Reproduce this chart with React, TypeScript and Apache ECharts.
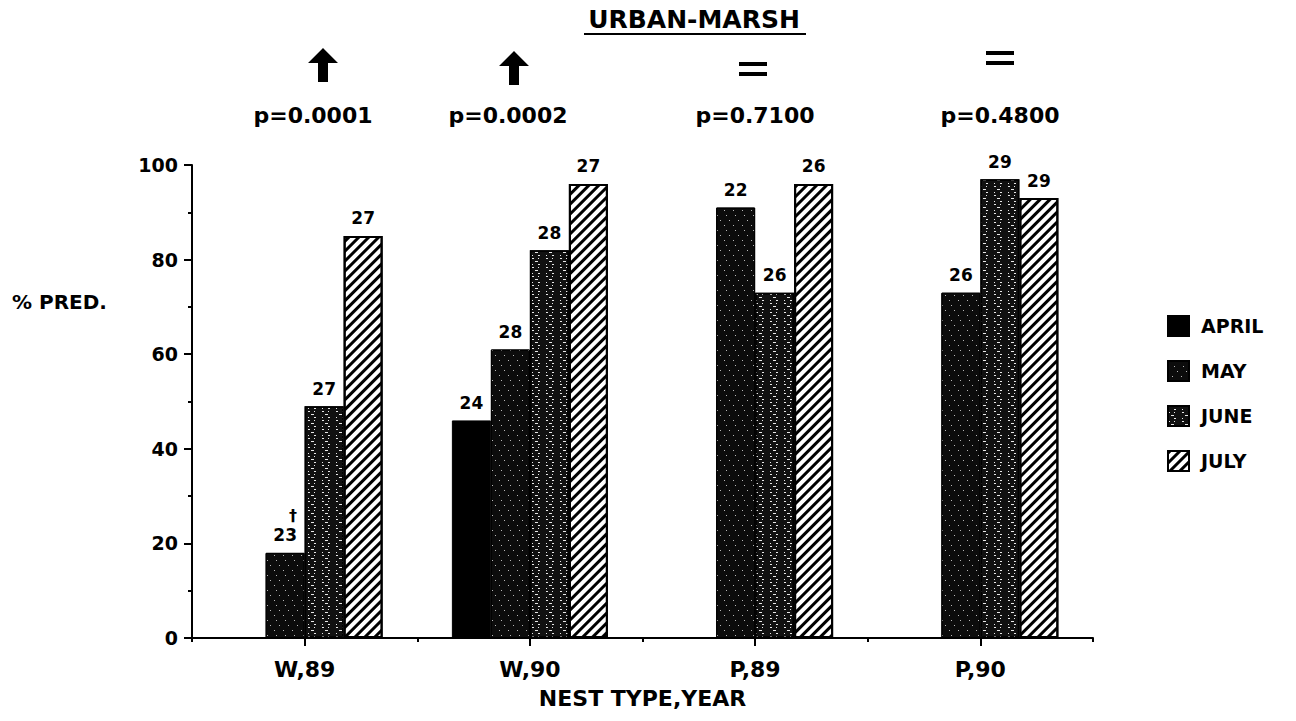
import React, { useEffect, useRef } from 'react';
import * as echarts from 'echarts';

// ---- data ----
const categories = ['W,89', 'W,90', 'P,89', 'P,90'];
const months = ['APRIL', 'MAY', 'JUNE', 'JULY'];
const aprilValues: (number | null)[] = [null, 46, null, null];
const mayValues = [18, 61, 91, 73];
const juneValues = [49, 82, 73, 97];
const julyValues = [85, 96, 96, 93];
const aprilN = ['', '24', '', ''];
const mayN = ['23', '28', '22', '26'];
const juneN = ['27', '28', '26', '29'];
const julyN = ['27', '27', '26', '29'];
const mayNotes = ['†', '', '', ''];
const pValues = ['p=0.0001', 'p=0.0002', 'p=0.7100', 'p=0.4800'];
const trends = ['up', 'up', 'equal', 'equal'];

const FONT = 'DejaVu Sans';

const monthStyle: Record<string, any> = {
  APRIL: { color: '#000', borderColor: '#000', borderWidth: 1 },
  MAY: {
    color: '#0c0c0c',
    borderColor: '#000',
    borderWidth: 1,
    decal: {
      symbol: 'rect',
      symbolSize: 1,
      color: 'rgba(255,255,255,0.7)',
      dashArrayX: [[1, 8], [0, 4, 1, 4], [0, 6, 1, 2]],
      dashArrayY: [1, 4],
      rotation: 0,
    },
  },
  JUNE: {
    color: '#111',
    borderColor: '#000',
    borderWidth: 1.5,
    decal: {
      symbol: 'rect',
      symbolSize: 1,
      color: 'rgba(255,255,255,0.9)',
      dashArrayX: [[2, 4, 1, 7], [0, 3, 3, 8], [1, 5, 2, 6]],
      dashArrayY: [1, 2],
      rotation: 0,
    },
  },
  JULY: {
    color: '#fff',
    borderColor: '#000',
    borderWidth: 2,
    decal: {
      symbol: 'rect',
      symbolSize: 1,
      color: '#000',
      dashArrayX: [1, 0],
      dashArrayY: [2.6, 3.8],
      rotation: -Math.PI / 4,
    },
  },
};

const valuesByMonth: Record<string, (number | null)[]> = {
  APRIL: aprilValues,
  MAY: mayValues,
  JUNE: juneValues,
  JULY: julyValues,
};
const nByMonth: Record<string, string[]> = {
  APRIL: aprilN,
  MAY: mayN,
  JUNE: juneN,
  JULY: julyN,
};

function makeSeries(month: string) {
  const vals = valuesByMonth[month].map((v) => (v != null ? v : '-'));
  return {
    name: month,
    type: 'bar',
    xAxisIndex: 0,
    barWidth: 39,
    barGap: '0%',
    data: vals,
    itemStyle: monthStyle[month],
    label: {
      show: true,
      position: 'top',
      distance: 9,
      fontFamily: FONT,
      fontWeight: 'bold',
      fontSize: 17,
      color: '#000',
      formatter: (p: any) => {
        const n = nByMonth[month][p.dataIndex];
        const note = month === 'MAY' ? mayNotes[p.dataIndex] : '';
        if (note) return '{dag|' + note + '}\n{n|' + n + '}';
        return n;
      },
      rich: {
        dag: { align: 'right', fontSize: 16, fontWeight: 'bold', fontFamily: FONT, color: '#000', lineHeight: 22 },
        n: { fontSize: 17, fontWeight: 'bold', fontFamily: FONT, color: '#000' },
      },
    },
  };
}

function arrow(cx: number, y0: number) {
  return {
    type: 'polygon',
    shape: {
      points: [
        [cx, y0],
        [cx + 15, y0 + 15],
        [cx + 5, y0 + 15],
        [cx + 5, y0 + 34],
        [cx - 5, y0 + 34],
        [cx - 5, y0 + 15],
        [cx - 15, y0 + 15],
      ],
    },
    style: { fill: '#000' },
  };
}

function equalSign(cx: number, y0: number) {
  return [
    { type: 'rect', shape: { x: cx - 14, y: y0, width: 28, height: 4 }, style: { fill: '#000' } },
    { type: 'rect', shape: { x: cx - 14, y: y0 + 10, width: 28, height: 4 }, style: { fill: '#000' } },
  ];
}

const markerPos = [
  { cx: 323, y: 48 },
  { cx: 514, y: 51 },
  { cx: 753, y: 62 },
  { cx: 1000, y: 51 },
];
const pPos = [313, 508, 755, 1000];

export default function App() {
  const ref = useRef<HTMLDivElement>(null);
  useEffect(() => {
    if (!ref.current) return;
    const chart = echarts.init(ref.current, null, { renderer: 'svg' });

    const graphics: any[] = [
      {
        type: 'text',
        x: 694,
        y: 19,
        style: {
          text: 'URBAN-MARSH',
          font: 'bold 25px "' + FONT + '"',
          fill: '#000',
          align: 'center',
          verticalAlign: 'middle',
        },
      },
      { type: 'line', shape: { x1: 584, y1: 34, x2: 806, y2: 34 }, style: { stroke: '#000', lineWidth: 2 } },
      {
        type: 'text',
        x: 12,
        y: 302,
        style: {
          text: '% PRED.',
          font: 'bold 20px "' + FONT + '"',
          fill: '#000',
          align: 'left',
          verticalAlign: 'middle',
        },
      },
    ];
    trends.forEach((t, i) => {
      const m = markerPos[i];
      if (t === 'up') graphics.push(arrow(m.cx, m.y));
      else graphics.push(...equalSign(m.cx, m.y));
      graphics.push({
        type: 'text',
        x: pPos[i],
        y: 115,
        style: {
          text: pValues[i],
          font: 'bold 22px "' + FONT + '"',
          fill: '#000',
          align: 'center',
          verticalAlign: 'middle',
        },
      });
    });

    const series: any[] = months.map((m) => makeSeries(m));

    chart.setOption({
      animation: false,
      backgroundColor: '#fff',
      grid: { left: 192, right: 203, top: 165, bottom: 83 },
      legend: {
        data: months,
        orient: 'vertical',
        left: 1162,
        top: 310,
        itemWidth: 21,
        itemHeight: 20,
        itemGap: 23,
        icon: 'rect',
        selectedMode: false,
        textStyle: { fontFamily: FONT, fontWeight: 'bold', fontSize: 19, color: '#000', padding: [0, 0, 0, 7] },
      },
      xAxis: [
        {
          type: 'category',
          data: categories,
          position: 'bottom',
          axisLine: { show: true, lineStyle: { color: '#000', width: 2 } },
          axisTick: { show: true, length: 4, lineStyle: { color: '#000', width: 2 } },
          axisLabel: {
            fontFamily: FONT,
            fontWeight: 'bold',
            fontSize: 22,
            color: '#000',
            margin: 20,
          },
          name: 'NEST TYPE,YEAR',
          nameLocation: 'middle',
          nameGap: 49,
          nameTextStyle: { fontFamily: FONT, fontWeight: 'bold', fontSize: 22, color: '#000' },
        },
        {
          type: 'category',
          data: categories,
          position: 'bottom',
          axisLine: { show: false },
          axisTick: { show: true, alignWithLabel: true, length: 8, lineStyle: { color: '#000', width: 2 } },
          axisLabel: { show: false },
        },
      ],
      yAxis: {
        type: 'value',
        min: 0,
        max: 100,
        interval: 20,
        axisLine: { show: true, lineStyle: { color: '#000', width: 2 } },
        axisTick: { show: true, length: 8, lineStyle: { color: '#000', width: 2 } },
        minorTick: { show: true, splitNumber: 2, length: 4, lineStyle: { color: '#000', width: 2 } },
        splitLine: { show: false },
        axisLabel: {
          fontFamily: FONT,
          fontWeight: 'bold',
          fontSize: 19,
          color: '#000',
          margin: 14,
        },
      },
      graphic: graphics,
      series,
    });
    return () => chart.dispose();
  }, []);
  return <div ref={ref} style={{ width: 1296, height: 721, position: 'absolute', left: 0, top: 0 }} />;
}
